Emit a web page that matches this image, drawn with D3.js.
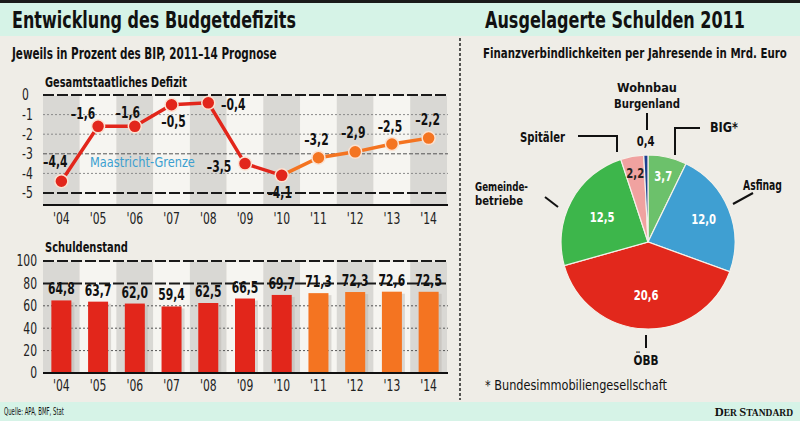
<!DOCTYPE html>
<html><head><meta charset="utf-8">
<script src="https://cdn.jsdelivr.net/npm/d3@7"></script>
<style>
body{margin:0;background:#efede7}
svg{display:block}
text{font-family:"DejaVu Sans Condensed","Liberation Sans Narrow","Roboto Condensed","DejaVu Sans",sans-serif;fill:#111}
</style>
</head><body>
<svg id="c" width="800" height="421"></svg>
<script>
// ---- data ----
const years = ["'04","'05","'06","'07","'08","'09","'10","'11","'12","'13","'14"];
const deficit = [-4.4,-1.6,-1.6,-0.5,-0.4,-3.5,-4.1,-3.2,-2.9,-2.5,-2.2];
const debt = [64.8,63.7,62.0,59.4,62.5,66.5,69.7,71.3,72.3,72.6,72.5];
const forecastStart = 7; // '11 onward = Prognose
const deficitTicks = [0,-1,-2,-3,-4,-5];
const debtTicks = [0,20,40,60,80,100];
const maastricht = -3;
const pieNames = ["BIG*","Asfinag","ÖBB","Gemeindebetriebe","Spitäler","Wohnbau Burgenland"];
const pieValues = [3.7,12.0,20.6,12.5,2.2,0.4];

// ---- style config ----
const RED="#e2261b", ORANGE="#f47421";
const pieColors=["#6cc16b","#3f9fd2","#e2281c","#3db64b","#f0a2a0","#1c3f90"];
const pieLabelColors=["#fff","#fff","#fff","#fff","#222","#111"];
const pieLabelR=[68,60,53,52,70,101];
const defLabelOff=[[-6,-19],[-15,-13],[-7,-14],[2,17],[25,2],[-26,3],[-2,17],[-2,-18],[-2,-19],[-2,-17],[-1,-18]];
const SQUEEZE=0.8;

const fmt = v => d3.format(".1f")(Math.abs(v)).replace(".",",");
const fmtS = v => (v<0?"–":"")+fmt(v);

const svg=d3.select("#c");
svg.append("rect").attr("width",800).attr("height",421).attr("fill","#efede7");
svg.append("rect").attr("x",0).attr("y",0).attr("width",800).attr("height",3).attr("fill","#1a1a1a");
svg.append("rect").attr("x",0).attr("y",3).attr("width",800).attr("height",33).attr("fill","#d6f3e7");
svg.append("rect").attr("x",0).attr("y",402).attr("width",800).attr("height",19).attr("fill","#d6f3e7");

function T(x,y,size,txt,w,bold){
  return svg.append("text").attr("x",x).attr("y",y).attr("font-size",size)
    .attr("font-weight",bold===false?"normal":"bold").attr("data-w",w).text(txt);
}
T(12,28,23,"Entwicklung des Budgetdefizits",284);
T(485,28,23,"Ausgelagerte Schulden 2011",260);
T(12,59,15,"Jeweils in Prozent des BIP, 2011–14 Prognose",265);
T(483,58,14,"Finanzverbindlichkeiten per Jahresende in Mrd. Euro",304);

svg.append("line").attr("x1",460).attr("x2",460).attr("y1",38).attr("y2",400)
  .attr("stroke","#222").attr("stroke-width",1.5).attr("stroke-dasharray","3,2");

// ---- top chart ----
const x=d3.scaleBand().domain(years).range([43,447]).padding(0);
const cx=d=>x(d)+x.bandwidth()/2;
const y1=d3.scaleLinear().domain([-5,0]).range([193,95]);

T(45,87,14,"Gesamtstaatliches Defizit",142);

const g1=svg.append("g");
g1.selectAll("rect.band").data(years).join("rect").attr("class","band")
  .attr("x",d=>x(d)).attr("width",x.bandwidth()).attr("y",96).attr("height",109)
  .attr("fill",(d,i)=>i%2===0?"#d9d8d4":"#f6f5f1");

function gridStyle(sel,isMajor,isMid){
  sel.attr("stroke",isMajor?"#1a1a1a":(isMid?"#555":"#8a8a8a"))
     .attr("stroke-width",isMajor?2:1)
     .attr("stroke-dasharray",isMajor?"11,3":(isMid?"4,2":"2,2"));
}
deficitTicks.forEach(t=>{
  const l=g1.append("line").attr("x1",43).attr("x2",448).attr("y1",y1(t)).attr("y2",y1(t));
  gridStyle(l,t===0||t===-5,t===maastricht);
});
g1.append("line").attr("x1",43).attr("x2",448).attr("y1",205).attr("y2",205).attr("stroke","#111").attr("stroke-width",2);

const ax1=g1.append("g").attr("transform","translate(22,0)")
  .call(d3.axisRight(y1).tickValues(deficitTicks).tickSize(0).tickPadding(0).tickFormat(d=>d===0?"0":"-"+Math.abs(d)));
ax1.select(".domain").remove();
ax1.attr("font-family",null).attr("font-size",null);
ax1.selectAll("text").attr("font-size",15).style("fill","#222");

g1.append("text").attr("x",90).attr("y",167).attr("font-size",14).attr("data-w",105).style("fill","#3b9fd0").text("Maastricht-Grenze");

const xa1=g1.append("g").attr("transform","translate(0,211)").call(d3.axisBottom(x).tickSize(0).tickPadding(0));
xa1.select(".domain").remove();
xa1.attr("font-family",null).attr("font-size",null);
xa1.selectAll("text").attr("font-size",15).attr("dy","0.85em").style("fill","#222");

const line=d3.line().x(d=>cx(d.y)).y(d=>y1(d.v));
const pts=years.map((yr,i)=>({y:yr,v:deficit[i],i}));
g1.append("path").datum(pts.slice(0,forecastStart)).attr("d",line).attr("fill","none").attr("stroke",RED).attr("stroke-width",3.5);
g1.append("path").datum(pts.slice(forecastStart-1)).attr("d",line).attr("fill","none").attr("stroke",ORANGE).attr("stroke-width",3.5);
g1.selectAll("circle").data(pts).join("circle")
  .attr("cx",d=>cx(d.y)).attr("cy",d=>y1(d.v)).attr("r",6.5)
  .attr("fill",d=>d.i<forecastStart?RED:ORANGE).attr("stroke","#fbe2d2").attr("stroke-width",1.5);
g1.selectAll("text.vl").data(pts).join("text").attr("class","vl")
  .attr("x",d=>cx(d.y)+defLabelOff[d.i][0]).attr("y",d=>y1(d.v)+defLabelOff[d.i][1])
  .attr("dy","0.35em").attr("text-anchor","middle").attr("font-size",15).attr("font-weight","bold")
  .text(d=>fmtS(d.v));

// ---- bottom chart ----
const y2=d3.scaleLinear().domain([0,100]).range([373,261]);
T(45,252,14,"Schuldenstand",83);
const g2=svg.append("g");
g2.selectAll("rect.band").data(years).join("rect").attr("class","band")
  .attr("x",d=>x(d)).attr("width",x.bandwidth()).attr("y",262).attr("height",111)
  .attr("fill",(d,i)=>i%2===0?"#d9d8d4":"#f6f5f1");
debtTicks.forEach(t=>{
  if(t===0)return;
  const l=g2.append("line").attr("x1",43).attr("x2",448).attr("y1",y2(t)).attr("y2",y2(t));
  gridStyle(l,t>=80,false);
  if(t<80) l.attr("stroke","#555");
});
const bw=20;
const bars=years.map((yr,i)=>({y:yr,v:debt[i],i}));
g2.selectAll("rect.sh").data(bars).join("rect").attr("class","sh")
  .attr("x",d=>cx(d.y)-bw/2+3).attr("width",bw).attr("y",d=>y2(d.v)+2).attr("height",d=>y2(0)-y2(d.v)-2)
  .attr("fill","#b8b4ad").attr("opacity",0.45);
g2.selectAll("rect.bar").data(bars).join("rect").attr("class","bar")
  .attr("x",d=>cx(d.y)-bw/2).attr("width",bw).attr("y",d=>y2(d.v)).attr("height",d=>y2(0)-y2(d.v))
  .attr("fill",d=>d.i<forecastStart?RED:ORANGE);
g2.append("line").attr("x1",43).attr("x2",448).attr("y1",y2(0)).attr("y2",y2(0)).attr("stroke","#111").attr("stroke-width",2);
g2.selectAll("text.vl").data(bars).join("text").attr("class","vl")
  .attr("x",d=>cx(d.y)).attr("y",d=>y2(d.v)-6).attr("text-anchor","middle")
  .attr("font-size",15).attr("font-weight","bold").text(d=>fmt(d.v));
const ax2=g2.append("g").attr("transform","translate(37,0)")
  .call(d3.axisLeft(y2).tickValues(debtTicks).tickSize(0).tickPadding(0));
ax2.select(".domain").remove();
ax2.attr("font-family",null).attr("font-size",null);
ax2.selectAll("text").attr("font-size",15).style("fill","#222");
const xa2=g2.append("g").attr("transform","translate(0,378)").call(d3.axisBottom(x).tickSize(0).tickPadding(0));
xa2.select(".domain").remove();
xa2.attr("font-family",null).attr("font-size",null);
xa2.selectAll("text").attr("font-size",15).attr("dy","0.85em").style("fill","#222");

// ---- pie ----
const PC=[648,242], R=87;
const gp=svg.append("g").attr("transform",`translate(${PC[0]},${PC[1]})`);
const pie=d3.pie().sort(null).value(d=>d.v);
const arcs=pie(pieNames.map((n,i)=>({n,v:pieValues[i],i})));
const arc=d3.arc().innerRadius(0).outerRadius(R);
gp.selectAll("path").data(arcs).join("path").attr("d",arc)
  .attr("fill",d=>pieColors[d.data.i]).attr("stroke","#f4f1ea").attr("stroke-width",1.2);
gp.selectAll("text.pv").data(arcs).join("text").attr("class","pv")
  .attr("x",d=>{const a=(d.startAngle+d.endAngle)/2;return Math.sin(a)*pieLabelR[d.data.i];})
  .attr("y",d=>{const a=(d.startAngle+d.endAngle)/2;return -Math.cos(a)*pieLabelR[d.data.i];})
  .attr("dy","0.35em").attr("text-anchor","middle").attr("font-size",14).attr("font-weight","bold")
  .style("fill",d=>pieLabelColors[d.data.i]).text(d=>fmt(d.data.v));

const callouts=[
  {lines:[[-1,-129],[-1,-112]], text:["Wohnbau","Burgenland"], tx:-1, ty:[-155,-139], anchor:"middle", w:[60,66]},
  {lines:[[-70,-106],[-31,-106],[-31,-90]], text:["Spitäler"], tx:-83, ty:[-105], anchor:"end", w:[45]},
  {lines:[[52,-114],[27,-114],[27,-87]], text:["BIG*"], tx:62, ty:[-115], anchor:"start", w:[28]},
  {lines:[[105,-49],[85,-38]], text:["Asfinag"], tx:95, ty:[-57], anchor:"start", w:[39]},
  {lines:[[-103,-45],[-90,-35]], text:["Gemeinde-","betriebe"], tx:-173, ty:[-56,-42], anchor:"start", w:[53,48]},
  {lines:[[-2,93],[-2,106]], text:["ÖBB"], tx:-2, ty:[118], anchor:"middle", w:[25]}
];
callouts.forEach(c=>{
  gp.append("path").attr("d",d3.line()(c.lines)).attr("fill","none").attr("stroke","#111").attr("stroke-width",2);
  c.text.forEach((t,k)=>gp.append("text").attr("x",c.tx).attr("y",c.ty[k]).attr("dy","0.35em")
    .attr("text-anchor",c.anchor).attr("font-size",c.text.length>1?13:14).attr("font-weight","bold").attr("data-w",c.w[k]).text(t));
});
svg.append("text").attr("x",485).attr("y",385).attr("dy","0.35em").attr("font-size",14).attr("data-w",182).text("* Bundesimmobiliengesellschaft");

svg.append("text").attr("x",4).attr("y",415).attr("font-size",10).attr("data-w",60).text("Quelle: APA, BMF, Stat");

// condense all text horizontally around its anchor x (no condensed font installed)
svg.selectAll("text").each(function(){
  const w=this.getAttribute("data-w");
  const L=this.getComputedTextLength();
  const f=w? (+w)/L : SQUEEZE;
  const x0=+(this.getAttribute("x")||0);
  this.setAttribute("transform",`translate(${x0},0) scale(${f.toFixed(4)},1) translate(${-x0},0)`);
});

const st=svg.append("text").attr("x",793).attr("y",416).attr("text-anchor","end")
  .style("font-family","'Liberation Serif','DejaVu Serif',serif").attr("font-weight","bold");
[["D",12.5],["ER ",9.5],["S",12.5],["TANDARD",9.5]].forEach(([t,s])=>st.append("tspan").attr("font-size",s).text(t));
</script>
</body></html>
